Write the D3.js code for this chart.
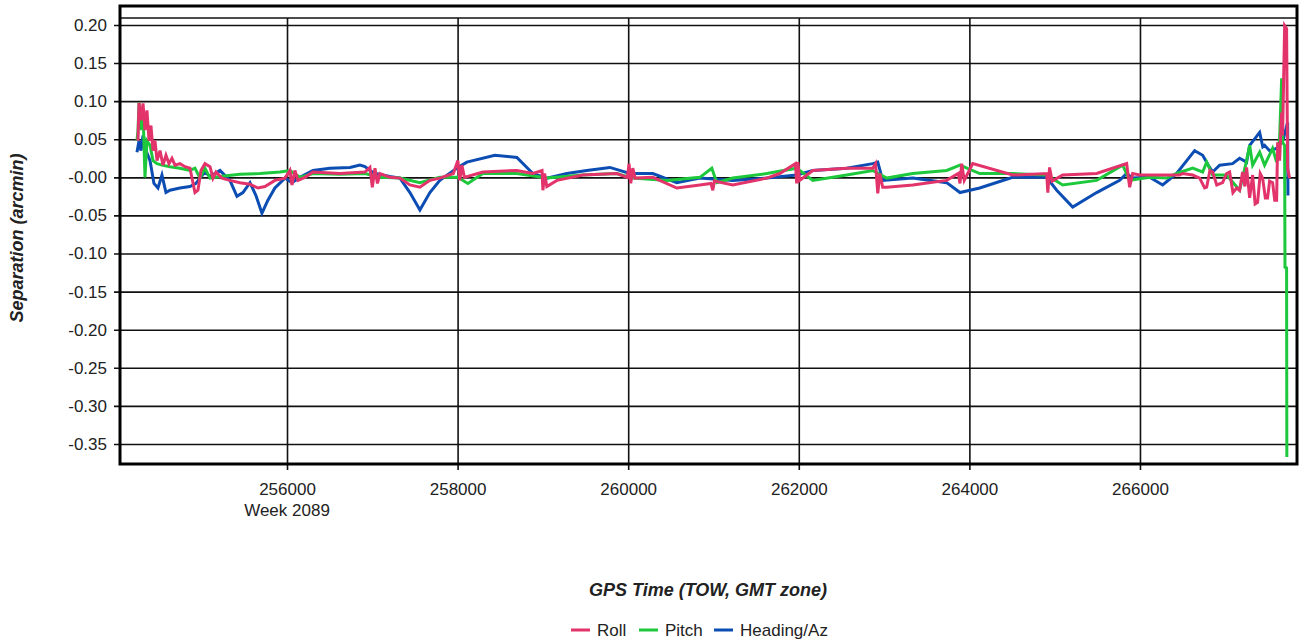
<!DOCTYPE html>
<html lang="en">
<head>
  <meta charset="UTF-8">
  <title>Separation</title>
  <style>
    body { margin: 0; background: #fff; }
    text { font-family: "Liberation Sans", Arial, sans-serif; }
  </style>
</head>
<body>
  <svg id="svg" width="1299" height="643"></svg>

  <script src="https://d3js.org/d3.v7.min.js"></script>
  <script>
    // ------ DATA (GPS TOW seconds, arcmin) ------------------------
    const yTicks = [0.20, 0.15, 0.10, 0.05, 0.00, -0.05, -0.10, -0.15, -0.20, -0.25, -0.30, -0.35]
    const xTicks = [256000, 258000, 260000, 262000, 264000, 266000]
    const weekLabel = 'Week 2089'

    const heading = [
      [254241, 0.033], [254265, 0.048], [254288, 0.035], [254312, 0.055], [254347, 0.035], [254394, 0.022],
      [254440, -0.008], [254487, -0.014], [254534, 0.003], [254581, -0.020], [254628, -0.017], [254745, -0.014],
      [254862, -0.012], [254933, -0.008], [254980, -0.001], [255038, 0.007], [255097, 0.001], [255214, 0.009],
      [255331, -0.004], [255413, -0.025], [255483, -0.020], [255566, -0.007], [255636, -0.024], [255706, -0.047],
      [255776, -0.030], [255858, -0.014], [255976, -0.001], [256058, -0.007], [256152, 0.000], [256304, 0.009],
      [256503, 0.012], [256738, 0.013], [256855, 0.016], [256914, 0.014], [256972, 0.009], [257031, 0.005],
      [257206, 0.001], [257324, -0.001], [257441, -0.020], [257558, -0.043], [257675, -0.020], [257792, -0.004],
      [258003, 0.013], [258108, 0.020], [258437, 0.029], [258695, 0.026], [258882, 0.005], [259046, -0.001],
      [259281, 0.005], [259515, 0.009], [259785, 0.013], [260019, 0.005], [260289, 0.005], [260570, -0.007],
      [260840, -0.001], [261226, -0.004], [261625, -0.001], [261976, 0.003], [262164, 0.009], [262562, 0.012],
      [262867, 0.018], [262926, 0.020], [262984, -0.004], [263336, -0.001], [263734, -0.007], [263890, -0.020],
      [264121, -0.014], [264508, 0.000], [264906, 0.000], [265024, -0.017], [265211, -0.039], [265492, -0.020],
      [265762, -0.004], [265844, 0.005], [265914, -0.001], [266114, 0.000], [266266, -0.010], [266430, 0.005],
      [266641, 0.035], [266735, 0.029], [266817, 0.013], [266852, 0.007], [266934, 0.016], [267086, 0.018],
      [267168, 0.025], [267250, 0.020], [267286, 0.042], [267403, 0.059], [267440, 0.040], [267461, 0.042],
      [267520, 0.035], [267602, 0.038], [267680, 0.050], [267731, 0.072], [267735, -0.024]
    ]

    const pitch = [
      [254241, 0.048], [254253, 0.062], [254265, 0.098], [254288, 0.062], [254312, 0.085], [254335, 0.000],
      [254358, 0.048], [254394, 0.042], [254429, 0.022], [254476, 0.018], [254534, 0.016], [254628, 0.014],
      [254745, 0.012], [254862, 0.009], [254921, 0.012], [254980, -0.001], [255038, 0.012], [255097, -0.001],
      [255214, 0.001], [255448, 0.004], [255683, 0.005], [255917, 0.007], [256034, 0.009], [256152, 0.000],
      [256304, 0.005], [256620, 0.004], [256914, 0.005], [257089, 0.000], [257324, -0.001], [257558, -0.007],
      [257792, 0.000], [258003, 0.000], [258120, -0.008], [258296, 0.005], [258695, 0.005], [259046, -0.001],
      [259468, 0.003], [259866, 0.005], [260054, -0.001], [260453, -0.004], [260840, 0.000], [260980, 0.012],
      [261039, -0.007], [261226, -0.001], [261625, 0.005], [261976, 0.012], [262164, -0.004], [262562, 0.003],
      [262867, 0.009], [263031, -0.001], [263336, 0.005], [263734, 0.009], [263890, 0.016], [264121, 0.005],
      [264508, 0.005], [264906, 0.003], [265094, -0.010], [265492, -0.004], [265797, 0.016], [265879, -0.004],
      [266114, 0.000], [266313, -0.001], [266430, 0.005], [266618, 0.012], [266735, 0.007], [266782, 0.020],
      [266852, 0.003], [267016, 0.003], [267168, -0.017], [267250, 0.022], [267286, 0.042], [267321, 0.016],
      [267403, 0.033], [267461, 0.016], [267555, 0.038], [267602, 0.020], [267637, 0.051], [267661, 0.130],
      [267672, 0.046], [267696, 0.042], [267700, -0.118], [267719, -0.119], [267722, -0.367]
    ]

    const roll = [
      [254253, 0.048], [254265, 0.098], [254288, 0.075], [254312, 0.097], [254335, 0.062], [254358, 0.088],
      [254382, 0.048], [254405, 0.068], [254429, 0.035], [254452, 0.048], [254476, 0.022], [254511, 0.035],
      [254546, 0.016], [254581, 0.029], [254616, 0.018], [254651, 0.025], [254687, 0.016], [254745, 0.018],
      [254804, 0.014], [254862, 0.012], [254921, -0.020], [254956, -0.017], [254991, 0.009], [255038, 0.018],
      [255097, 0.014], [255132, -0.001], [255167, 0.007], [255237, -0.001], [255331, -0.004], [255448, -0.007],
      [255566, -0.009], [255659, -0.014], [255741, -0.012], [255858, -0.004], [255976, -0.001], [256034, 0.009],
      [256058, -0.010], [256093, 0.009], [256128, -0.004], [256210, 0.000], [256304, 0.007], [256620, 0.005],
      [256914, 0.007], [256972, 0.013], [257000, -0.013], [257031, 0.012], [257060, -0.008], [257089, 0.005],
      [257206, 0.000], [257324, -0.001], [257441, -0.010], [257558, -0.013], [257675, -0.004], [257792, -0.001],
      [257950, 0.005], [258003, 0.022], [258026, -0.004], [258050, 0.016], [258080, 0.000], [258296, 0.007],
      [258695, 0.009], [258882, 0.005], [258990, 0.009], [259000, -0.017], [259020, 0.005], [259046, -0.012],
      [259164, -0.004], [259468, 0.003], [259866, 0.005], [259990, 0.000], [260010, 0.018], [260030, -0.008],
      [260054, 0.012], [260080, -0.001], [260289, 0.000], [260570, -0.014], [260840, -0.010], [260970, -0.008],
      [260992, -0.017], [261010, -0.005], [261226, -0.010], [261625, -0.001], [261777, 0.005], [261960, 0.018],
      [261976, -0.008], [261990, 0.020], [262010, -0.004], [262164, 0.009], [262562, 0.012], [262867, 0.012],
      [262900, 0.018], [262926, -0.021], [262950, 0.005], [262984, -0.013], [263031, -0.013], [263336, -0.010],
      [263734, -0.004], [263870, 0.005], [263890, -0.008], [263910, 0.018], [263940, -0.004], [264039, 0.018],
      [264508, 0.003], [264906, 0.005], [264920, -0.020], [264940, 0.013], [264970, -0.005], [265094, 0.003],
      [265492, 0.005], [265844, 0.018], [265879, -0.013], [265914, 0.005], [265996, 0.003], [266114, 0.003],
      [266313, 0.003], [266465, 0.003], [266500, 0.005], [266618, 0.003], [266700, -0.001], [266758, -0.014],
      [266782, -0.013], [266820, 0.009], [266852, 0.007], [266900, -0.010], [266969, -0.007], [267016, 0.005],
      [267051, 0.007], [267090, -0.020], [267133, -0.014], [267168, -0.017], [267203, 0.007], [267230, -0.012],
      [267250, 0.013], [267286, -0.027], [267321, 0.003], [267350, -0.035], [267379, -0.033], [267410, 0.005],
      [267438, -0.001], [267470, -0.027], [267496, -0.027], [267520, -0.005], [267555, -0.007], [267580, -0.030],
      [267602, -0.030], [267614, 0.046], [267637, 0.022], [267661, 0.085], [267672, 0.055], [267696, 0.199],
      [267719, 0.195], [267731, 0.012], [267754, -0.001]
    ]

    const series = [
      { name: 'Roll', color: '#e2336b', data: roll },
      { name: 'Pitch', color: '#1ec83c', data: pitch },
      { name: 'Heading/Az', color: '#0b4db3', data: heading }
    ]

    // ------ LAYOUT ------------------------
    const box = { left: 120, right: 1297, top: 6, bottom: 464 }

    const x = d3.scaleLinear().domain([254042, 267841]).range([box.left, box.right])
    const y = d3.scaleLinear().domain([-0.3763, 0.2249]).range([box.bottom, box.top])

    // plain hyphen for minus, like the original
    const fmt = d3.formatLocale({ decimal: '.', thousands: '', grouping: [3], currency: ['', ''], minus: '-' }).format('.2f')

    const svg = d3.select('#svg')

    svg.append('defs').append('clipPath').attr('id', 'plotClip')
      .append('rect').attr('x', box.left).attr('y', box.top)
      .attr('width', box.right - box.left).attr('height', box.bottom - box.top)

    // horizontal grid + y ticks
    const yAxis = d3.axisLeft(y)
      .tickValues(yTicks)
      .tickSize(-(box.right - box.left) - 6)
      .tickPadding(7)
      .tickFormat(d => Math.abs(d) < 1e-9 ? '-0.00' : fmt(d))
    const gy = svg.append('g').attr('transform', `translate(${box.left - 6},0)`).call(yAxis)
    gy.select('.domain').remove()
    gy.selectAll('line').attr('stroke', '#111').attr('stroke-width', 1.6)
    gy.selectAll('text').attr('font-size', 17).attr('fill', '#222')

    // inner frame line near top
    svg.append('line')
      .attr('x1', box.left).attr('x2', box.right)
      .attr('y1', box.top + 12).attr('y2', box.top + 12)
      .attr('stroke', '#111').attr('stroke-width', 1.6)

    // vertical grid + x ticks
    const xAxis = d3.axisBottom(x)
      .tickValues(xTicks)
      .tickSize(-(box.bottom - box.top - 12) - 6)
      .tickPadding(13)
      .tickFormat(d3.format('d'))
    const gx = svg.append('g').attr('transform', `translate(0,${box.bottom + 6})`).call(xAxis)
    gx.select('.domain').remove()
    gx.selectAll('line').attr('stroke', '#111').attr('stroke-width', 1.6)
    gx.selectAll('text').attr('font-size', 17).attr('fill', '#222')

    svg.append('text')
      .attr('x', x(xTicks[0])).attr('y', 516)
      .attr('text-anchor', 'middle').attr('font-size', 17).attr('fill', '#222')
      .text(weekLabel)

    // series lines (blue under green under pink)
    const line = d3.line().x(d => x(d[0])).y(d => y(d[1]))
    const plot = svg.append('g').attr('clip-path', 'url(#plotClip)')
    series.slice().reverse().forEach(s => {
      plot.append('path')
        .datum(s.data)
        .attr('d', line)
        .attr('fill', 'none')
        .attr('stroke', s.color)
        .attr('stroke-width', 3)
    })

    // frame
    svg.append('rect')
      .attr('x', box.left).attr('y', box.top)
      .attr('width', box.right - box.left).attr('height', box.bottom - box.top)
      .attr('fill', 'none').attr('stroke', '#000').attr('stroke-width', 3)

    // axis titles
    svg.append('text')
      .attr('transform', `translate(23,238) rotate(-90)`)
      .attr('text-anchor', 'middle')
      .attr('font-size', 18).attr('font-weight', 'bold').attr('font-style', 'italic').attr('fill', '#222')
      .text('Separation (arcmin)')

    svg.append('text')
      .attr('x', 708).attr('y', 596)
      .attr('text-anchor', 'middle')
      .attr('font-size', 18).attr('font-weight', 'bold').attr('font-style', 'italic').attr('fill', '#222')
      .text('GPS Time (TOW, GMT zone)')

    // legend
    const legendX = [571, 639, 714]
    const lg = svg.append('g').selectAll('g').data(series).join('g')
      .attr('transform', (d, i) => `translate(${legendX[i]},630)`)
    lg.append('line').attr('x1', 0).attr('x2', 19).attr('y1', 0).attr('y2', 0)
      .attr('stroke', d => d.color).attr('stroke-width', 3)
    lg.append('text').attr('x', 26).attr('y', 6).attr('font-size', 17).attr('fill', '#222')
      .text(d => d.name)
  </script>
</body>
</html>
